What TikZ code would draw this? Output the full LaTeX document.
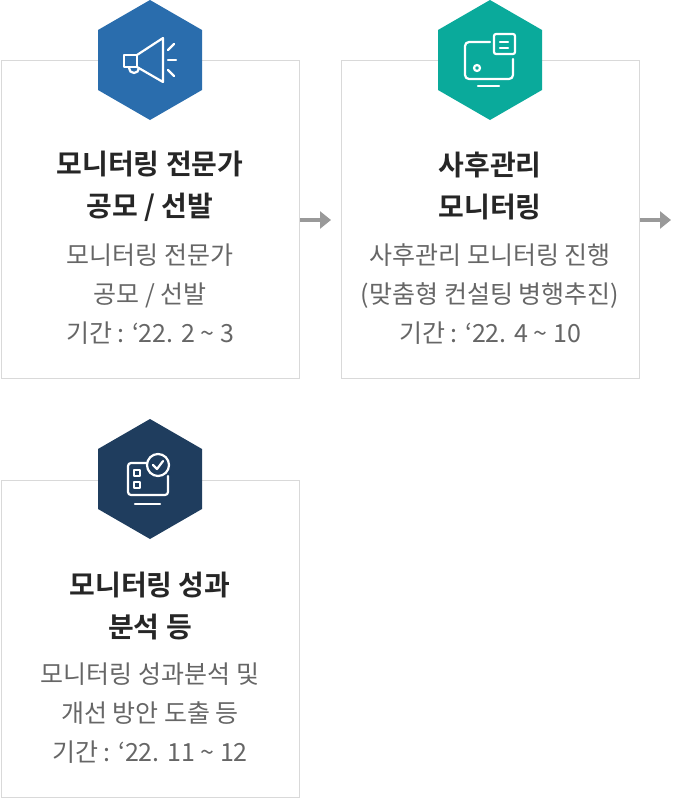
\documentclass[tikz,border=0pt]{standalone}
\usepackage{fontspec}
\setmainfont{Noto Sans CJK KR}
\newfontfamily\krbold{Noto Sans CJK KR Bold}
\usetikzlibrary{arrows.meta}
\definecolor{hexblue}{HTML}{2A6DAD}
\definecolor{hexteal}{HTML}{0AAA9B}
\definecolor{hexnavy}{HTML}{1F3D5E}
\definecolor{boxline}{HTML}{D9D9D9}
\definecolor{bodygray}{HTML}{666666}
\tikzset{
  stagebox/.style={draw=boxline, line width=1pt},
  titletext/.style={font=\krbold\fontsize{28}{42}\selectfont, text=black!85, align=center},
  bodytext/.style={font=\fontsize{25}{39}\selectfont, text=bodygray, align=center},
  icon/.style={draw=white, line width=2.2pt, line join=round, line cap=round},
  nextarrow/.style={draw=gray!80, line width=3.5pt, -{Triangle[length=11pt,width=17pt]}}
}
\newcommand{\hexat}[3]{\fill[#3] (#1,#2-60) -- (#1+52,#2-30) -- (#1+52,#2+30) -- (#1,#2+60) -- (#1-52,#2+30) -- (#1-52,#2-30) -- cycle;}
\begin{document}
\begin{tikzpicture}[x=1pt, y=-1pt]
\useasboundingbox (0,0) rectangle (680,798);
% boxes
\draw[stagebox] (1,60) rectangle (299,378);
\draw[stagebox] (341,60) rectangle (639,378);
\draw[stagebox] (1,480) rectangle (299,797);
% hexagons
\hexat{150}{60}{hexblue}
\hexat{490}{60}{hexteal}
\hexat{150}{479}{hexnavy}
% megaphone
\draw[icon] (124,55) rectangle (137,67);
\draw[icon] (137,55) -- (163,38) -- (163,82) -- (137,67);
\draw[icon] (129,68) arc (180:0:5);
\draw[icon] (168,50) -- (174,44);
\draw[icon] (168,60) -- (176,60);
\draw[icon] (168,70) -- (174,76);
% monitor
\draw[icon, rounded corners=4pt] (490,42) -- (465,42) -- (465,79) -- (513,79) -- (513,59);
\draw[icon, rounded corners=2pt] (494,34) rectangle (515,54);
\draw[icon] (500,42) -- (508,42);
\draw[icon] (500,48) -- (508,48);
\draw[icon] (477,68) circle (3);
\draw[icon] (478,86) -- (499,86);
% checklist screen
\draw[icon, rounded corners=3pt] (147,463) -- (128,463) -- (128,495) -- (168,495) -- (168,476);
\draw[icon] (158,465) circle (11);
\draw[icon] (153,465) -- (157,469) -- (163,461);
\draw[icon] (134,470) rectangle (140,476);
\draw[icon] (134,482) rectangle (140,488);
\draw[icon] (135,504) -- (160,504);
% texts
\node[titletext] (t1) at (150,186) {모니터링 전문가\\공모 / 선발};
\node[bodytext] (b1) at (150,294) {모니터링 전문가\\공모 / 선발\\기간 : ‘22. 2 \textasciitilde{} 3};
\node[titletext] (t2) at (490,186) {사후관리\\모니터링};
\node[bodytext] (b2) at (490,294) {사후관리 모니터링 진행\\(맞춤형 컨설팅 병행추진)\\기간 : ‘22. 4 \textasciitilde{} 10};
\node[titletext] (t3) at (150,606) {모니터링 성과\\분석 등};
\node[bodytext] (b3) at (150,713) {모니터링 성과분석 및\\개선 방안 도출 등\\기간 : ‘22. 11 \textasciitilde{} 12};
% arrows
\coordinate (a1s) at (300,220); \coordinate (a1e) at (331,220);
\coordinate (a2s) at (640,220); \coordinate (a2e) at (671,220);
\draw[nextarrow] (a1s) -- (a1e);
\draw[nextarrow] (a2s) -- (a2e);
\end{tikzpicture}
\end{document}
